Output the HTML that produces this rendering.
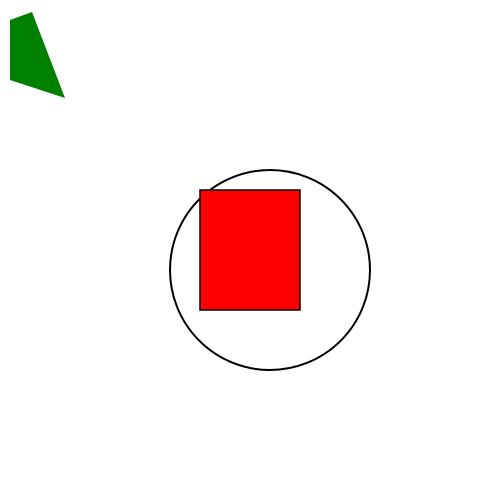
<!DOCTYPE html>
<html><head><meta charset="utf-8"><style>html,body{margin:0;padding:0;background:#fff}svg{display:block}</style></head>
<body>
<svg width="500" height="500" viewBox="0 0 500 500">
<polygon points="10,20 32,12 65,98 10,80" fill="#008000"/>
<circle cx="270" cy="270" r="100" fill="none" stroke="#000" stroke-width="2"/>
<rect x="200" y="190" width="100" height="120" fill="#ff0000" stroke="#000" stroke-width="1.5"/>
</svg>
</body></html>
